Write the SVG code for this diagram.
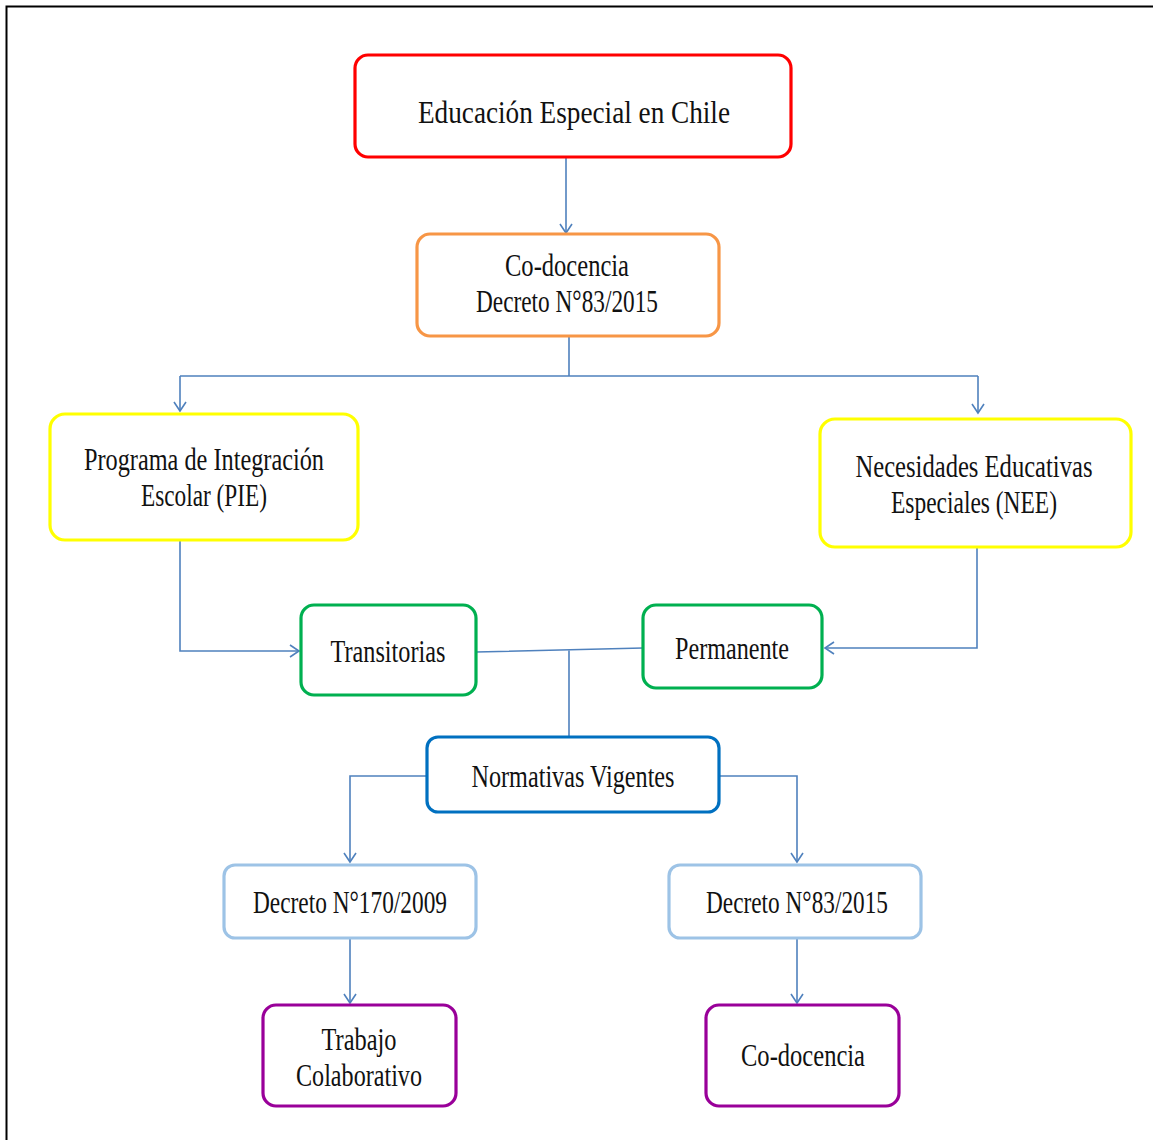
<svg xmlns="http://www.w3.org/2000/svg" width="1153" height="1140" viewBox="0 0 1153 1140">
<defs>
<marker id="arr" markerWidth="14" markerHeight="14" refX="11" refY="7" orient="auto" markerUnits="userSpaceOnUse">
<path d="M2,1 L11,7 L2,13" fill="none" stroke="#4f81bd" stroke-width="1.6"/>
</marker>
</defs>
<style>
.box{fill:#fff;stroke-width:3.2}
.t{font-family:"Liberation Serif","Times New Roman",serif;font-size:31px;fill:#111;text-anchor:middle}
.c{fill:none;stroke:#4f81bd;stroke-width:1.6}
</style>
<rect x="0" y="0" width="1153" height="1140" fill="#fff"/>
<path d="M6.5,1140 V6.5 H1153" fill="none" stroke="#000" stroke-width="2"/>
<g id="connectors">
<path class="c" d="M566,157 V233" marker-end="url(#arr)"/>
<path class="c" d="M569,336 V376 M180,376 H978"/>
<path class="c" d="M180,376 V411" marker-end="url(#arr)"/>
<path class="c" d="M978,376 V413" marker-end="url(#arr)"/>
<path class="c" d="M180,540 V651 H299" marker-end="url(#arr)"/>
<path class="c" d="M977,547 V648 H825" marker-end="url(#arr)"/>
<path class="c" d="M476,652 L643,648 M569,650 V737"/>
<path class="c" d="M427,776 H350 V862" marker-end="url(#arr)"/>
<path class="c" d="M719,776 H797 V862" marker-end="url(#arr)"/>
<path class="c" d="M350,938 V1003" marker-end="url(#arr)"/>
<path class="c" d="M797,938 V1003" marker-end="url(#arr)"/>
</g>
<g id="n-educacion">
<rect class="box" x="355" y="55" width="436" height="102" rx="13" stroke="#ff0000"/>
<text class="t" x="574" y="123" font-size="37" textLength="312" lengthAdjust="spacingAndGlyphs">Educación  Especial en Chile</text>
</g>
<g id="n-codocencia-top">
<rect class="box" x="417" y="234" width="302" height="102" rx="13" stroke="#f79646"/>
<text class="t" x="567" y="276" textLength="124" lengthAdjust="spacingAndGlyphs">Co-docencia</text>
<text class="t" x="567" y="312" textLength="182" lengthAdjust="spacingAndGlyphs">Decreto N°83/2015</text>
</g>
<g id="n-pie">
<rect class="box" x="50" y="414" width="308" height="126" rx="15" stroke="#ffff00"/>
<text class="t" x="204" y="470" textLength="240" lengthAdjust="spacingAndGlyphs">Programa  de Integración</text>
<text class="t" x="204" y="506" textLength="126" lengthAdjust="spacingAndGlyphs">Escolar (PIE)</text>
</g>
<g id="n-nee">
<rect class="box" x="820" y="419" width="311" height="128" rx="15" stroke="#ffff00"/>
<text class="t" x="974" y="477" textLength="237" lengthAdjust="spacingAndGlyphs">Necesidades Educativas</text>
<text class="t" x="974" y="513" textLength="166" lengthAdjust="spacingAndGlyphs">Especiales (NEE)</text>
</g>
<g id="n-transitorias">
<rect class="box" x="301" y="605" width="175" height="90" rx="13" stroke="#00b050"/>
<text class="t" x="388" y="662" textLength="115" lengthAdjust="spacingAndGlyphs">Transitorias</text>
</g>
<g id="n-permanente">
<rect class="box" x="643" y="605" width="179" height="83" rx="13" stroke="#00b050"/>
<text class="t" x="732" y="659" textLength="114" lengthAdjust="spacingAndGlyphs">Permanente</text>
</g>
<g id="n-normativas">
<rect class="box" x="427" y="737" width="292" height="75" rx="11" stroke="#0070c0"/>
<text class="t" x="573" y="787" textLength="203" lengthAdjust="spacingAndGlyphs">Normativas Vigentes</text>
</g>
<g id="n-decreto170">
<rect class="box" x="224" y="865" width="252" height="73" rx="11" stroke="#9dc3e6"/>
<text class="t" x="350" y="913" textLength="194" lengthAdjust="spacingAndGlyphs">Decreto N°170/2009</text>
</g>
<g id="n-decreto83">
<rect class="box" x="669" y="865" width="252" height="73" rx="11" stroke="#9dc3e6"/>
<text class="t" x="797" y="913" textLength="182" lengthAdjust="spacingAndGlyphs">Decreto N°83/2015</text>
</g>
<g id="n-trabajo">
<rect class="box" x="263" y="1005" width="193" height="101" rx="13" stroke="#990099"/>
<text class="t" x="359" y="1050" textLength="75" lengthAdjust="spacingAndGlyphs">Trabajo</text>
<text class="t" x="359" y="1086" textLength="126" lengthAdjust="spacingAndGlyphs">Colaborativo</text>
</g>
<g id="n-codocencia-bottom">
<rect class="box" x="706" y="1005" width="193" height="101" rx="13" stroke="#990099"/>
<text class="t" x="803" y="1066" textLength="124" lengthAdjust="spacingAndGlyphs">Co-docencia</text>
</g>
</svg>
